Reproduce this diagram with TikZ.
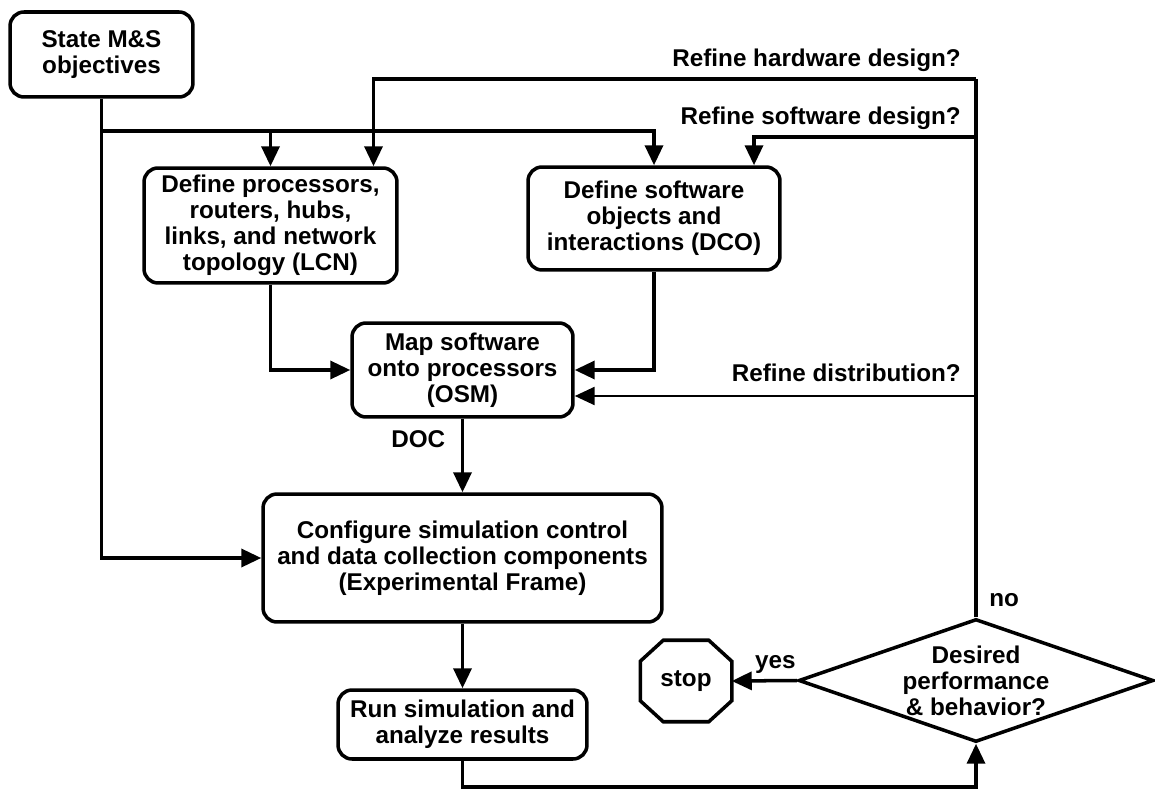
\documentclass[tikz,border=0pt]{standalone}
\usepackage{fontspec}
\setmainfont{Liberation Sans}
\usetikzlibrary{shapes,arrows.meta,calc,positioning}

\begin{document}
\begin{tikzpicture}[x=0.02cm,y=-0.02cm,
	font=\fontsize{13.8}{14.8}\selectfont\bfseries,
	line width=2pt,
	box/.style={draw,rounded corners=0.28cm,align=center,inner sep=2pt},
	arr/.style={-{Triangle[length=0.4cm,width=0.36cm]}},
	lbl/.style={inner sep=2pt,text depth=0pt}]
	\useasboundingbox (0,0) rectangle (1155,790);
	\node[box,minimum width=3.66cm,minimum height=1.7cm] (1) at (101.5,54.5) {State M\&S\\objectives};
	\node[box,minimum width=5.06cm,minimum height=2.3cm] (2) at (270.5,225.5) {Define processors,\\routers, hubs,\\links, and network\\topology (LCN)};
	\node[box,minimum width=5.04cm,minimum height=2.06cm] (3) at (654,218.5) {Define software\\objects and\\interactions (DCO)};
	\node[box,minimum width=4.42cm,minimum height=1.88cm] (4) at (462.5,370) {Map software\\onto processors\\(OSM)};
	\node[box,minimum width=7.98cm,minimum height=2.56cm] (5) at (462.5,558) {Configure simulation control\\and data collection components\\(Experimental Frame)};
	\node[box,minimum width=4.98cm,minimum height=1.38cm] (6) at (462.5,724.5) {Run simulation and\\analyze results};
	\node[draw,diamond,minimum width=7.1cm,minimum height=2.46cm,inner sep=0pt] (7) at (976,680.5) {};
	\node[align=center] (7t) at (7.center) {Desired\\performance\\\& behavior?};
	\node[minimum width=1.76cm,minimum height=1.56cm,inner sep=0pt] (8) at (686,681) {stop};
	\draw ($(8.north west)+(23,0)$) -- ($(8.north east)+(-23,0)$) -- ($(8.north east)+(0,21)$) -- ($(8.south east)+(0,-21)$) -- ($(8.south east)+(-23,0)$) -- ($(8.south west)+(23,0)$) -- ($(8.south west)+(0,-21)$) -- ($(8.north west)+(0,21)$) -- cycle;

	\coordinate (9) at (101.5,131);
	\coordinate (10) at (976,79);
	\coordinate (11) at (976,137);
	\coordinate (12) at (976,396);
	\coordinate (13) at (976,787);

	\draw[arr] (1.south) |- (5.west);
	\draw[arr] (9) -| (2.north);
	\draw[arr] (9) -| (3.north);
	\draw (7.north) -- (10);
	\draw[arr] (10) -| ($(2.north)+(103,0)$);
	\draw[arr] (11) -| ($(3.north)+(100,0)$);
	\draw[arr,line width=1.4pt] (12) -- (12 -| 4.east);
	\draw[arr] (2.south) |- (4.west);
	\draw[arr] (3.south) |- (4.east);
	\draw[arr] (4.south) -- (5.north);
	\draw[arr] (5.south) -- (6.north);
	\draw[arr] (6.south) |- (13) -- (7.south);
	\draw[arr] (7.west) -- (8.east);

	\node[lbl,anchor=south east] (14) at ($(10)+(-10,-7)$) {Refine hardware design?};
	\node[lbl,anchor=south east] (15) at ($(11)+(-10,-7)$) {Refine software design?};
	\node[lbl,anchor=south east] (16) at ($(12)+(-10,-9)$) {Refine distribution?};
	\node[lbl,anchor=east] (17) at ($(4.south)+(-12,20)$) {DOC};
	\node[lbl,anchor=south east] (18) at ($(7.west)+(4,-6.5)$) {yes};
	\node[lbl,anchor=south west] (19) at ($(7.north)+(8,-5.5)$) {no};
\end{tikzpicture}
\end{document}
